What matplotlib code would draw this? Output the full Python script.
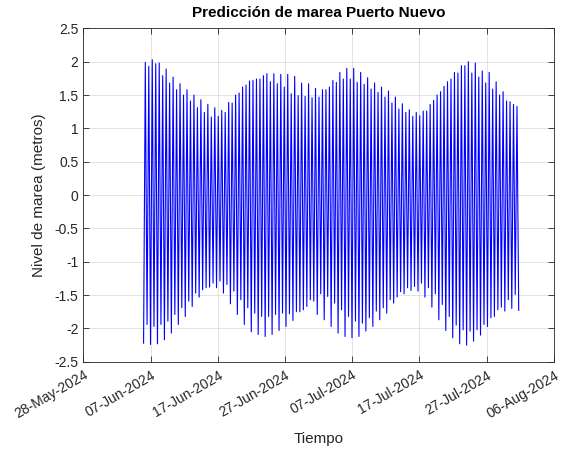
import numpy as np
import pandas as pd
import matplotlib
matplotlib.use('Agg')
import matplotlib.pyplot as plt
import matplotlib.dates as mdates
from matplotlib.ticker import FuncFormatter

plt.rcParams['font.family'] = ['Liberation Sans', 'DejaVu Sans']
plt.rcParams['axes.unicode_minus'] = False

# pleamares (m), en orden
pleamares = [1.99, 1.93, 2.03, 1.97, 1.98, 1.79, 1.89, 1.68, 1.77, 1.58, 1.67, 1.50,
             1.58, 1.41, 1.50, 1.31, 1.43, 1.24, 1.36, 1.17, 1.31, 1.18, 1.27, 1.24,
             1.39, 1.38, 1.50, 1.53, 1.62, 1.65, 1.71, 1.72, 1.74, 1.74, 1.79, 1.82,
             1.70, 1.82, 1.67, 1.81, 1.62, 1.81, 1.52, 1.78, 1.49, 1.68, 1.48, 1.67,
             1.46, 1.60, 1.47, 1.58, 1.58, 1.62, 1.72, 1.69, 1.84, 1.74, 1.90, 1.74,
             1.90, 1.69, 1.84, 1.66, 1.76, 1.59, 1.68, 1.54, 1.62, 1.47, 1.56, 1.38,
             1.47, 1.29, 1.37, 1.24, 1.28, 1.18, 1.24, 1.19, 1.26, 1.26, 1.36, 1.42,
             1.50, 1.55, 1.63, 1.70, 1.74, 1.84, 1.83, 1.94, 1.94, 2.00, 1.83, 1.98,
             1.77, 1.86, 1.68, 1.84, 1.59, 1.70, 1.50, 1.55, 1.41, 1.40, 1.36, 1.33]

# bajamares (m)
bajamares = [-2.22, -1.94, -2.24, -1.97, -2.23, -1.94, -2.17, -1.89, -2.07, -1.79, -1.94, -1.69,
             -1.82, -1.59, -1.67, -1.47, -1.53, -1.42, -1.39, -1.38, -1.32, -1.39, -1.29, -1.47,
             -1.34, -1.63, -1.44, -1.79, -1.57, -1.94, -1.69, -2.05, -1.77, -2.09, -1.82, -2.12,
             -1.82, -2.09, -1.79, -2.03, -1.77, -1.97, -1.78, -1.88, -1.75, -1.75, -1.72, -1.67,
             -1.57, -1.59, -1.79, -1.48, -1.87, -1.52, -1.97, -1.62, -2.07, -1.72, -2.12, -1.82,
             -2.14, -1.89, -2.12, -1.92, -2.04, -1.84, -1.97, -1.74, -1.87, -1.69, -1.77, -1.57,
             -1.62, -1.53, -1.45, -1.48, -1.39, -1.43, -1.37, -1.44, -1.32, -1.53, -1.39, -1.68,
             -1.48, -1.87, -1.64, -2.03, -1.82, -2.14, -1.95, -2.23, -2.02, -2.25, -2.04, -2.19,
             -2.02, -2.10, -1.94, -1.97, -1.84, -1.82, -1.72, -1.68, -1.74, -1.57, -1.70, -1.49,
             -1.73]

inicio = '2024-06-05 23:00'
paso = '6h12min'   # medio ciclo semidiurno aprox.

# intercalar bajamar / pleamar
nivel = []
for i in range(len(bajamares)):
    nivel.append(bajamares[i])
    if i < len(pleamares):
        nivel.append(pleamares[i])
tiempo = pd.date_range(inicio, periods=len(nivel), freq=paso)

fig = plt.figure(figsize=(5.67, 4.5), dpi=100)
ax = fig.add_axes([0.147, 0.196, 0.83, 0.741])
ax.plot(tiempo, nivel, color='b', linewidth=0.8)

ax.set_xlim(pd.Timestamp('2024-05-28'), pd.Timestamp('2024-08-06'))
ax.set_ylim(-2.5, 2.5)
ax.set_xticks(pd.date_range('2024-05-28', '2024-08-06', freq='10D'))
ax.xaxis.set_major_formatter(mdates.DateFormatter('%d-%b-%Y'))
plt.setp(ax.get_xticklabels(), rotation=30, ha='right', rotation_mode='anchor')
ax.set_yticks(np.arange(-2.5, 2.51, 0.5))
ax.yaxis.set_major_formatter(FuncFormatter(lambda v, p: f'{v:g}'))

ax.grid(True, color='#dedede', linewidth=0.6)
ax.set_axisbelow(True)
ax.tick_params(direction='in', top=True, right=True, length=4, width=0.6,
               labelsize=10, colors='#262626')
ax.tick_params(axis='x', pad=4.5)
for s in ax.spines.values():
    s.set_color('#262626')
    s.set_linewidth(0.6)

ax.set_title('Predicción de marea Puerto Nuevo', fontsize=11, fontweight='bold', pad=8)
ax.set_xlabel('Tiempo', fontsize=11, color='#262626', labelpad=8)
ax.set_ylabel('Nivel de marea (metros)', fontsize=11, color='#262626', labelpad=6)

fig.savefig('out.png', dpi=100)
